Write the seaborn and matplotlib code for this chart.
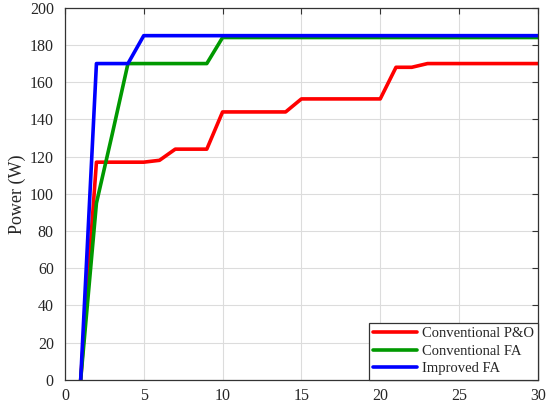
import numpy as np
import pandas as pd
import seaborn as sns
import matplotlib.pyplot as plt

sns.set_style("whitegrid")
plt.rcParams['font.family'] = ['Liberation Serif', 'DejaVu Serif']

# data
iters = list(range(1, 31))
po_power = [0, 117, 117, 117, 117, 118, 124, 124, 124, 144,
            144, 144, 144, 144, 151, 151, 151, 151, 151, 151,
            168, 168, 170, 170, 170, 170, 170, 170, 170, 170]
fa_power = [0, 95, 132, 170, 170, 170, 170, 170, 170, 184,
            184, 184, 184, 184, 184, 184, 184, 184, 184, 184,
            184, 184, 184, 184, 184, 184, 184, 184, 184, 184]
ifa_power = [0, 170, 170, 170, 185, 185, 185, 185, 185, 185,
             185, 185, 185, 185, 185, 185, 185, 185, 185, 185,
             185, 185, 185, 185, 185, 185, 185, 185, 185, 185]
series = ["Conventional P&O", "Conventional FA", "Improved FA"]
colors = ["#ff0000", "#009900", "#0000ff"]

df = pd.DataFrame({
    "x": iters * 3,
    "y": po_power + fa_power + ifa_power,
    "hue": [series[0]] * 30 + [series[1]] * 30 + [series[2]] * 30,
})

fig = plt.figure(figsize=(5.5, 4.08), dpi=100)
ax = fig.add_axes([0.118, 0.069, 0.860, 0.912])
sns.lineplot(data=df, x="x", y="y", hue="hue", palette=colors,
             linewidth=2.6, ax=ax)

ax.set_xlim(0, 30)
ax.set_ylim(0, 200)
ax.set_xticks(range(0, 31, 5))
ax.set_yticks(range(0, 201, 20))
ax.set_xlabel("")
ax.set_ylabel("Power (W)", fontsize=13, labelpad=3)
ax.tick_params(axis='both', which='major', labelsize=11.5, direction='in',
               top=True, right=True, length=4, color='#333333')
ax.tick_params(axis='y', pad=8)
ax.tick_params(axis='x', pad=6)
ax.grid(True, color='#dcdcdc', linewidth=0.8)
for s in ax.spines.values():
    s.set_edgecolor('#333333')
    s.set_linewidth(0.9)

leg = ax.legend(title=None, loc='lower right', fontsize=10.5, fancybox=False,
                framealpha=1, edgecolor='#333333', borderaxespad=0,
                handlelength=3.0, handletextpad=0.3, borderpad=0.3,
                labelspacing=0.3)
leg.get_frame().set_linewidth(0.9)

fig.savefig("out.png")
